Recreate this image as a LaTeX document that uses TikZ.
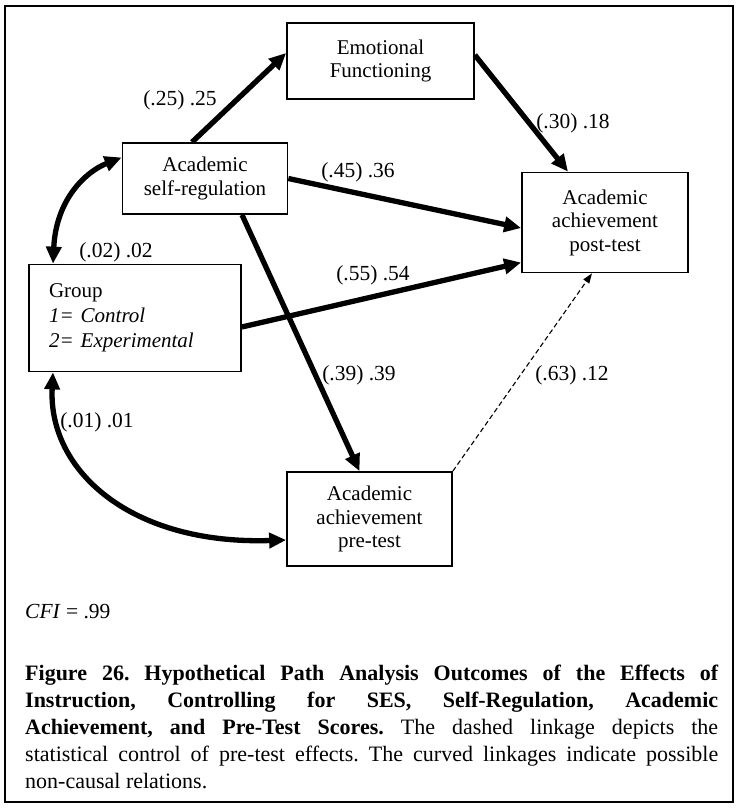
\documentclass[tikz,border=0pt]{standalone}
\usepackage{fontspec}
\setmainfont{Liberation Serif}
\usetikzlibrary{arrows.meta,calc}

\begin{document}
\frenchspacing
\begin{tikzpicture}[x=1pt,y=-1pt,
  box/.style={draw,line width=1.7pt,rectangle,align=center,inner sep=0pt,
    font=\fontsize{21}{23.5}\selectfont},
  tip/.style={-{Triangle[length=17pt,width=15pt]}},
  effect/.style={line width=5.3pt,tip},
  covar/.style={line width=5.3pt,{Triangle[length=17pt,width=15pt]}-{Triangle[length=17pt,width=15pt]}},
  pretest/.style={line width=1.1pt,dash pattern=on 5pt off 3pt,-{Triangle[length=10pt,width=7pt]}},
  coef/.style={inner sep=0pt,font=\fontsize{21.5}{24}\selectfont}]

\useasboundingbox (0,0) rectangle (736,808);

% outer frame
\draw[line width=1.8pt] (5,6) rectangle (733,802);

% variables
\node[box,minimum width=187pt,minimum height=76pt] (emo) at (380.5,61) {Emotional\\Functioning};
\node[box,minimum width=165pt,minimum height=71pt] (asr) at (205,178.5) {Academic\\self-regulation};
\node[box,minimum width=166pt,minimum height=100pt] (post) at (605,222.5) {Academic\\achievement\\post-test};
\node[box,minimum width=212pt,minimum height=107pt,text width=172pt,align=left,
  font=\fontsize{21}{25}\selectfont] (grp) at (135,318)
  {Group\\\textit{1= Control}\\\textit{2= Experimental}};
\node[box,minimum width=165pt,minimum height=94pt] (pre) at (369.5,519) {Academic\\achievement\\pre-test};

% directed paths
\draw[effect] ([xshift=-13pt]asr.north) -- ([yshift=8pt]emo.west);
\draw[effect] ([yshift=6pt]emo.east) -- ([xshift=-37pt]post.north);
\draw[effect] (asr.east) -- ([yshift=-5.5pt]post.west);
\draw[effect] ([yshift=-9pt]grp.east) -- ([yshift=-40pt]post.west);
\draw[effect] ([xshift=37pt]asr.south) -- ([xshift=-10pt]pre.north);
\draw[pretest] (pre.north east) -- ([xshift=-13pt]post.south);

% curved (non-causal) linkages
\draw[covar] ([xshift=-82pt]grp.north) .. controls (56,200) and (85,172) .. ([yshift=21pt]asr.west);
\draw[covar] ([xshift=-82pt]grp.south) .. controls (48,470) and (130,545) .. ([yshift=-21pt]pre.west);

% coefficients
\node[coef] (c1) at (180,100) {(.25) .25};
\node[coef] (c2) at (573,123) {(.30) .18};
\node[coef] (c3) at (358,172) {(.45) .36};
\node[coef] (c4) at (116,252) {(.02) .02};
\node[coef] (c5) at (373,275) {(.55) .54};
\node[coef] (c6) at (359,375) {(.39) .39};
\node[coef] (c7) at (572,375) {(.63) .12};
\node[coef] (c8) at (97,422) {(.01) .01};

% fit index
\node[coef,anchor=base west] (cfi) at (25,618) {\textit{CFI} = .99};

% caption
\node[inner sep=0pt,anchor=north west,text width=693pt,align=justify,
  font=\fontsize{22}{27}\selectfont] (cap) at (25,665)
  {\hyphenpenalty=10000
   \textbf{Figure 26. Hypothetical Path Analysis Outcomes of the Effects of\linebreak
   Instruction, Controlling for SES, Self-Regulation, Academic\linebreak
   Achievement, and Pre-Test Scores.} The dashed linkage depicts the\linebreak
   statistical control of pre-test effects. The curved linkages indicate possible\linebreak
   non-causal relations.};
\end{tikzpicture}
\end{document}
